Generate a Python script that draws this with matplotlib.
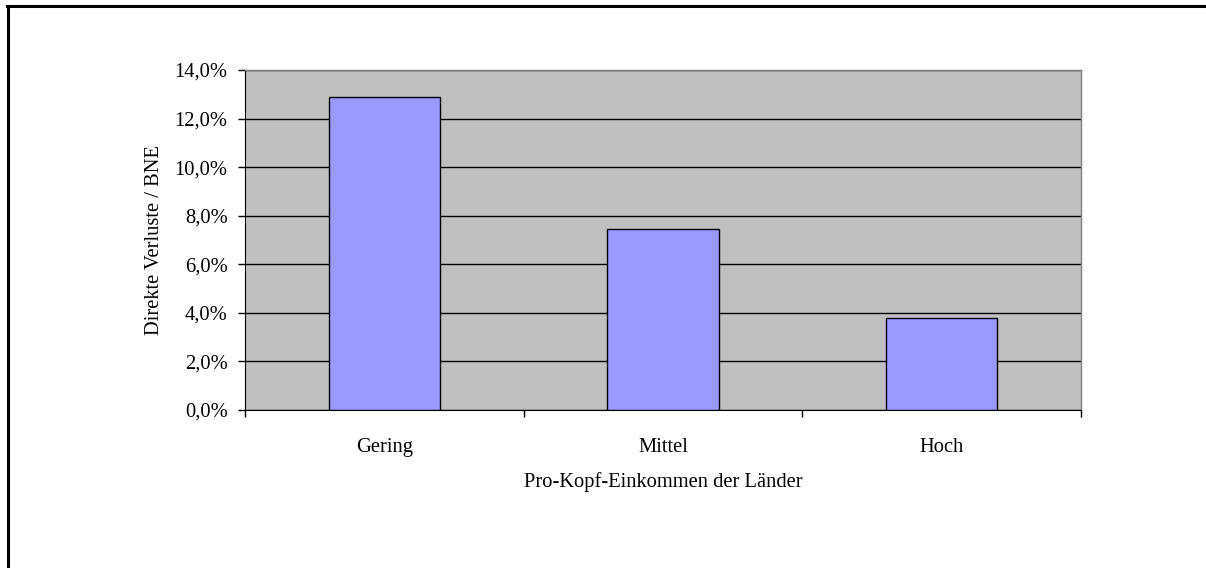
import matplotlib
matplotlib.use("Agg")
import matplotlib.pyplot as plt
from matplotlib.lines import Line2D
from matplotlib.ticker import FuncFormatter

categories = ["Gering", "Mittel", "Hoch"]
values = [12.9, 7.45, 3.8]  # percent
y_ticks = [0, 2, 4, 6, 8, 10, 12, 14]
xlabel = "Pro-Kopf-Einkommen der Länder"
ylabel = "Direkte Verluste / BNE"

plt.rcParams['font.family'] = ['Liberation Serif', 'DejaVu Serif']
FS = 14.8

W, H = 1206, 568
fig = plt.figure(figsize=(W / 100, H / 100), dpi=100)
ax = fig.add_axes([245 / W, 1 - 410 / H, (1081 - 245) / W, (410 - 70) / H])

ax.set_facecolor("#c0c0c0")
x = list(range(len(categories)))
ax.bar(x, values, width=0.4, color="#9999ff", edgecolor="black", linewidth=1.0, zorder=3)
ax.set_xlim(-0.5, len(categories) - 0.5)
ax.set_ylim(0, 14)
ax.set_yticks(y_ticks)
ax.yaxis.set_major_formatter(FuncFormatter(lambda v, p: f"{v:.1f}".replace(".", ",") + "%"))
ax.grid(axis="y", color="black", linewidth=1.0, zorder=1)
ax.set_axisbelow(True)

ax.set_xticks(x)
ax.set_xticklabels(categories)
ax.set_xticks([-0.5, 0.5, 1.5, 2.5], minor=True)
ax.tick_params(axis="x", which="major", length=0, pad=20, labelsize=FS)
ax.tick_params(axis="x", which="minor", length=5, width=1, direction="out")
ax.tick_params(axis="y", length=5, width=1, direction="out", labelsize=FS, pad=7.5)

for s in ["top", "right"]:
    ax.spines[s].set_color("#808080")
    ax.spines[s].set_linewidth(1)
ax.spines["left"].set_color("black")
ax.spines["bottom"].set_color("black")

ax.set_xlabel(xlabel, fontsize=FS, labelpad=11)
ax.set_ylabel(ylabel, fontsize=FS, labelpad=8)

# outer frame (left and top)
fig.add_artist(Line2D([8 / W, 8 / W], [0, 1 - 6 / H], transform=fig.transFigure, color="black", linewidth=2.2))
fig.add_artist(Line2D([7 / W, 1], [1 - 6 / H, 1 - 6 / H], transform=fig.transFigure, color="black", linewidth=2.2))

fig.savefig("out.png", dpi=100)
